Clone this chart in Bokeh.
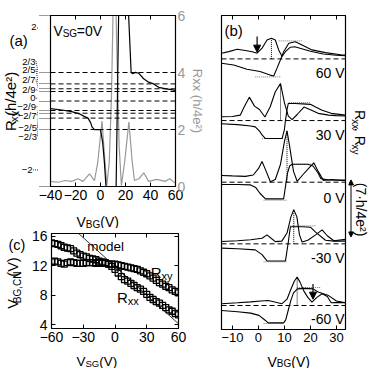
import math
from bokeh.plotting import figure
from bokeh.layouts import row, column
from bokeh.models import (Range1d, LinearAxis, FixedTicker, Label, Arrow, NormalHead, Span,
                          CustomJSTickFormatter)
from bokeh.embed import file_html
from bokeh.resources import INLINE

FONT = "Liberation Sans"
GRAY = "#999999"

# ---------------- Panel (a) data ----------------
a_vbg_xy = [-40, -31, -23, -17, -13, -10, -8, -6.7, -4.8, 0, 1.7, 3.1, 4.4, 8, 12.5, 14.5, 18,
            22.5, 24.5, 25.5, 28, 30.5, 34.5, 38.5, 42.5, 46.5, 51.5, 60]
a_rxy = [-0.18, -0.21, -0.25, -0.30, -0.36, -0.40, -0.50, -0.61, -0.67, -0.67, -0.96, -1.43, -2.0,
         -2.0, -2.0, 2.0, 2.0, 2.0, 0.67, 0.64, 0.67, 0.65, 0.52, 0.44, 0.40, 0.32, 0.29, 0.25]
a_vbg_xx = [-40, -33.7, -28.4, -23.2, -18, -14, -8.8, -4.8, -2.2, 1.2, 3.6, 5.1, 7, 8.8, 10.2, 11.2,
            12.2, 13.5, 14.9, 16.7, 19.3, 22.7, 25.4, 27.2, 30.6, 34.6, 38.5, 45, 51.6, 55.5, 60]
a_rxx = [0.18, 0.15, 0.21, 0.18, 0.27, 0.18, 0.44, 0.21, 0.85, 2.3, 0.85, 0.04, 0.85, 3.2, 6.5, 6.2,
         6.5, 4.0, 1.44, 0.04, 0.85, 2.26, 0.85, 0.21, 0.27, 0.48, 0.18, 0.25, 0.18, 0.27, 0.11]
a_fracs = [2/3, 2/5, 2/7, 2/9, 0, -2/9, -2/7, -2/5, -2/3]
a_frac_labels = ["2/3", "2/5", "2/7", "2/9", "0", "\u22122/9", "\u22122/7", "\u22122/5", "\u22122/3"]
a_ends = [2, -2]
a_end_labels = ["2", "\u22122"]
a_xticks = [-40, -20, 0, 20, 40, 60]
a_xtick_labels = ["\u221240", "\u221220", "0", "20", "40", "60"]
a_rticks = [0, 2, 4, 6]
a_rtick_labels = ["0", "2", "4", "6"]

# ---------------- Panel (b) data ----------------
b_vsg_labels = ["60 V", "30 V", "0 V", "-30 V", "-60 V"]
b_rxx_vbg = [
    [-14.2, -11.4, -8.2, -5, -2.4, -0.5, 1.4, 3.3, 5, 6.5, 7.8, 9.1, 10.4, 12.3, 14, 17, 20, 25, 30, 33.5],
    [-14.2, -10, -7, -5.5, -3.5, -1.5, 0.5, 2.5, 4.5, 6.5, 8.5, 10, 11.5, 13, 15, 17.5, 20, 23, 27, 30, 33.5],
    [-14.2, -10, -5, -2, 0, 1.4, 3, 4.6, 6.5, 8.5, 10, 11, 12, 13.5, 14.9, 17, 19.5, 21.3, 23, 25, 28, 31, 33.5],
    [-14.2, -8, -3, 1.4, 3.3, 5, 6.5, 9, 11, 12.5, 13.6, 14.8, 15.8, 16.8, 19, 22, 24.5, 26.5, 29, 33.5],
    [-14.2, -8, -3, 1, 3.8, 5.5, 7.5, 9.1, 11, 12.5, 13.8, 14.9, 16, 17.5, 19, 20.6, 22.5, 24.5, 26.5, 28, 31, 33.5],
]
b_rxx = [
    [0.63, 0.81, 1.07, 0.93, 0.8, 0.63, 1.19, 2.1, 2.3, 2.1, 1.0, 0.26, 0.8, 1.3, 1.35, 1.1, 0.85, 0.55, 0.4, 0.35],
    [0.42, 0.45, 0.6, 1.5, 2.6, 1.6, 1.2, 0.4, 1.5, 3.2, 4.1, 2.0, 0.5, 0.1, 0.7, 1.5, 1.2, 0.8, 0.6, 0.55, 0.5],
    [0.75, 0.7, 0.65, 0.8, 1.5, 2.3, 1.2, 0.05, 0.3, 2.0, 4.5, 5.7, 4.0, 1.2, 0.1, 0.8, 1.6, 2.15, 1.2, 0.2, 0.3, 0.25, 0.2],
    [0.26, 0.35, 0.45, 0.63, 1.0, 0.6, 0.25, 0.3, 1.2, 3.0, 3.8, 3.0, 1.0, 0.2, 0.4, 1.0, 1.55, 0.9, 0.35, 0.5],
    [0.2, 0.3, 0.4, 0.5, 0.55, 0.45, 0.3, 0.2, 0.7, 1.8, 2.7, 3.15, 2.6, 1.6, 0.9, 0.37, 0.9, 1.3, 1.0, 0.3, 0.35, 0.3],
]
b_rxy_vbg = [
    [-14.2, -9.5, -4.4, 0.6, 4.5, 5.9, 7.2, 8.5, 9.7, 11.7, 14.2, 16.8, 20.6, 25.8, 32.2, 33.5],
    [-14.2, -8, -3, -1.2, 0.5, 1.4, 2.7, 6, 9.1, 10, 10.4, 11, 11.5, 14, 17, 20, 22, 24.5, 28, 33.5],
    [-14.2, -8, -3, -1, 0.5, 2.7, 6, 9.7, 10.4, 11.2, 12, 13, 16, 19, 21, 23, 24, 27, 33.5],
    [-14.2, -8, -1.2, 1.4, 3.3, 6, 10.4, 11.4, 12.3, 14, 17, 20, 22, 25.8, 29, 33.5],
    [-14.2, -8, -3, 0.2, 2, 3.8, 6, 9.7, 10.5, 11.5, 12.5, 13.5, 15, 18, 21, 23, 27, 30, 33.5],
]
b_rxy = [
    [-0.48, -0.67, -1.15, -1.4, -1.8, -1.9, -1.0, -0.1, 0.8, 1.74, 1.9, 1.55, 1.0, 0.7, 0.44, 0.42],
    [-0.35, -0.45, -0.6, -0.7, -1.2, -1.6, -2.0, -2.0, -2.0, -1.0, 0, 1.2, 1.9, 1.9, 1.85, 1.8, 1.5, 1.15, 0.8, 0.6],
    [-0.25, -0.25, -0.3, -0.6, -1.2, -1.85, -1.85, -1.85, -0.5, 1.0, 1.8, 2.0, 2.0, 2.0, 1.8, 1.0, 0.4, 0.25, 0.2],
    [-0.48, -0.55, -0.67, -1.2, -1.9, -1.9, -1.9, 0, 1.9, 1.9, 1.9, 1.85, 1.3, 0.4, 0.3, 0.3],
    [-0.55, -0.7, -0.85, -1.1, -1.5, -1.93, -1.93, -1.93, -1.6, -0.5, 0.6, 1.4, 1.85, 1.9, 1.85, 1.5, 1.1, 0.5, 0.3],
]
b_cn_vbg = [5, 8.5, 11, 13.6, 14.9]
b_cn_peak = [2.3, 4.1, 5.7, 3.8, 3.15]
b_lo_start = [-1.2, 1.4, 2, 2, 2]
b_lo_end = [8.5, 9.7, 11, 11, 9.7]
b_hi_start = [7.8, 11.7, 13, 12.3, 14.9]
b_hi_end = [16.8, 20, 22, 22, 23.8]
b_arrow_trace = [0, 4]
b_arrow_vbg = [-0.5, 21]
b_arrow_top = [2.5, 2.4]
b_arrow_bot = [0.75, 0.7]
b_xticks = [-10, 0, 10, 20, 30]
b_xtick_labels = ["\u221210", "0", "10", "20", "30"]
b_step = 6.85
b_scale_bar = 7

# ---------------- Panel (c) data ----------------
c_vsg = [-60, -57, -54, -51, -48, -45, -42, -39, -36, -33, -30, -27, -24, -21, -18, -15, -12, -9, -6, -3,
         0, 3, 6, 9, 12, 15, 18, 21, 24, 27, 30, 33, 36, 39, 42, 45, 48, 51, 54, 57, 60]
c_rxy = [12.5, 12.6, 12.5, 12.3, 12.2, 12.4, 12.5, 12.4, 12.3, 12.3, 12.3, 12.4, 12.4, 12.4, 12.3, 12.4,
         12.3, 12.3, 12.2, 12.2, 12.2, 12.1, 12.0, 11.9, 11.8, 11.7, 11.6, 11.5, 11.3, 11.1, 10.9, 10.6,
         10.3, 10.0, 9.7, 9.5, 9.2, 9.0, 8.7, 8.5, 8.3]
c_rxx = [15.1, 15.0, 14.9, 14.7, 14.5, 14.4, 14.3, 14.0, 13.7, 13.5, 13.3, 13.2, 13.0, 12.9, 12.8, 12.6,
         12.5, 12.4, 12.2, 11.9, 11.5, 11.0, 10.5, 10.1, 9.9, 9.6, 9.3, 9.0, 8.8, 8.5, 8.1, 7.7, 7.4, 7.1,
         6.9, 6.6, 6.3, 6.0, 5.8, 5.5, 5.3]
c_model_vsg = [-60, 60]
c_model_vbg = [19.7, 4.1]
c_xticks = [-60, -30, 0, 30, 60]
c_xtick_labels = ["\u221260", "\u221230", "0", "30", "60"]
c_yticks = [4, 8, 12, 16]
c_ytick_labels = ["4", "8", "12", "16"]

# ---------------- helpers ----------------
EM = {'R': .722, 'V': .667, 'x': .5, 'y': .5, 'B': .667, 'G': .778, 'S': .667, 'C': .722, 'N': .722,
      ',': .278, '(': .333, ')': .333, 'h': .556, '/': .278, 'e': .556, '\u00b2': .333, ' ': .278,
      '\u00b7': .278, '=': .584, 'm': .833, 'o': .556, 'd': .556, 'l': .222}
MID = 0.3465


def tw(s, size):
    return sum(EM.get(c, .556) for c in s) * size


def lab(p, x, y, text, size, color="black", align="left", baseline="alphabetic", angle=0.0):
    p.add_layout(Label(x=x, y=y, text=text, angle=angle, text_font=FONT, text_font_size=f"{size}px",
                       text_color=color, text_align=align, text_baseline=baseline))


def hrich(p, X, Y, pieces, tx=lambda v: v, ty=lambda v: v, color="black"):
    adv = 0.0
    for text, size, shift in pieces:
        lab(p, tx(X + adv), ty(Y + shift), text, size, color=color)
        adv += tw(text, size)


def vrich(p, Xmid, Ystart, pieces, up=True, tx=lambda v: v, ty=lambda v: v, color="black"):
    main = pieces[0][1]
    adv = 0.0
    for text, size, shift in pieces:
        w = tw(text, size)
        c = adv + w / 2.0
        ms = (shift + MID * (main - size)) if shift else 0.0
        if up:
            X, Y, ang = Xmid + ms, Ystart - c, math.pi / 2
        else:
            X, Y, ang = Xmid - ms, Ystart + c, -math.pi / 2
        lab(p, tx(X), ty(Y), text, size, color=color, align="center", baseline="middle", angle=ang)
        adv += w


def mkfig(w, h, xr, yr, bl, br, bt, bb):
    p = figure(width=w, height=h, x_range=Range1d(*xr), y_range=Range1d(*yr), title=None,
               output_backend="svg", toolbar_location=None,
               min_border_left=bl, min_border_right=br, min_border_top=bt, min_border_bottom=bb)
    p.xgrid.visible = False
    p.ygrid.visible = False
    p.outline_line_color = "black"
    p.outline_line_width = 1.2
    return p


def aux(w, h, xr, yr):
    p = figure(width=w, height=h, x_range=Range1d(*xr), y_range=Range1d(*yr), title=None,
               output_backend="svg", toolbar_location=None, x_axis_location=None, y_axis_location=None,
               min_border=0, min_border_left=0, min_border_right=0, min_border_top=0, min_border_bottom=0)
    p.xgrid.visible = False
    p.ygrid.visible = False
    p.outline_line_color = None
    return p


NOLABEL = CustomJSTickFormatter(code="return ''")


def style(ax, ticks, labels=None, size="14px", color="black", standoff=3, tick_in=4):
    ax.ticker = FixedTicker(ticks=ticks, minor_ticks=[])
    ax.major_tick_in = tick_in
    ax.major_tick_out = 0
    ax.major_tick_line_color = "black"
    ax.minor_tick_line_color = None
    ax.axis_line_color = "black"
    ax.major_label_standoff = standoff
    ax.major_label_text_font = FONT
    ax.major_label_text_font_size = size
    ax.major_label_text_color = color
    if labels is None:
        ax.formatter = NOLABEL
        ax.major_label_standoff = 0
    else:
        ax.major_label_overrides = {t: l for t, l in zip(ticks, labels)}


# ================= Panel (a): frame page x 50..177, y 15..186 =================
A_PX = 171 / 4.0


def a_y(Y):
    return 2 - (Y - 15) / A_PX


def a_x(X):
    return -40 + (X - 50) * 100 / 127


fa = mkfig(170, 206, (-40, 60), (-2, 2), 12, 31, 15, 20)
fa.extra_y_ranges = {"rxx": Range1d(0, 6)}
style(fa.below[0], a_xticks, a_xtick_labels, size="14px", standoff=3)
lax = fa.left[0]
style(lax, a_fracs + a_ends, None, tick_in=0)
lax.major_tick_out = 11
lax.major_tick_line_dash = "1 1"
lax.major_tick_line_width = 0.8
top = LinearAxis()
fa.add_layout(top, "above")
style(top, a_xticks)
rax = LinearAxis(y_range_name="rxx")
fa.add_layout(rax, "right")
style(rax, a_rticks, a_rtick_labels, size="14px", color=GRAY, standoff=2)
rax.axis_label = "Rxx (h/4e\u00b2)"
rax.axis_label_text_font = FONT
rax.axis_label_text_font_size = "13px"
rax.axis_label_text_font_style = "normal"
rax.axis_label_text_color = GRAY
rax.axis_label_standoff = 2

for f in a_fracs:
    fa.add_layout(Span(location=f, dimension="width", line_color="black", line_dash="5 3", line_width=1))
fa.line(a_vbg_xx, a_rxx, y_range_name="rxx", line_color=GRAY, line_width=1.2)
fa.line(a_vbg_xy, a_rxy, line_color="black", line_width=1.2)
hrich(fa, 53, 30, [("V", 14, 0), ("SG", 10, 3), ("=0V", 14, 0)], tx=a_x, ty=a_y)

# left strip of (a): page x 0..38, same vertical scale as (a)
aL = aux(38, 206, (0, 38), (-2 - 20 / A_PX, 2 + 15 / A_PX))
frac_label_y = [55, 64.5, 77, 89, 99.5, 110, 120, 135, 145.5]
frac_label_r = [35, 35, 35, 35, 35, 35.5, 36, 36.5, 36.5]
for f, txt, ly, lr in zip(a_fracs, a_frac_labels, frac_label_y, frac_label_r):
    lab(aL, lr, a_y(ly), txt, 9.5, align="right", baseline="middle")
    aL.add_layout(Arrow(x_start=lr + 0.5, y_start=a_y(ly), x_end=38, y_end=f, end=None,
                        line_dash="1 1", line_width=0.8, line_color="black"))
for v, txt, lx, ly in zip(a_ends, a_end_labels, [36, 32], [14, 186]):
    lab(aL, lx, a_y(ly), txt, 9.5, align="right", baseline="middle")
    aL.add_layout(Arrow(x_start=lx + 0.5, y_start=v, x_end=38, y_end=v, end=None,
                        line_dash="1 1", line_width=0.8, line_color="black"))
hrich(aL, 9, 30, [("(a)", 15, 0)], ty=a_y)
vrich(aL, 9.5, 138, [("R", 15, 0), ("xy", 11, 3), (" (h/4e\u00b2)", 15, 0)], up=True, ty=a_y)

# bottom strip of (a): page y 206..228
aB = aux(208, 22, (0, 208), (228, 206))
hrich(aB, 76, 221, [("V", 14, 0), ("BG", 10, 2.5), ("(V)", 14, 0)])

# ================= Panel (c): frame page x 50..178, y 233..328 =================
C_PX = 7.36


def c_y(Y):
    return 16 - (Y - 235.7) / C_PX


def c_x(X):
    return -60 + (X - 50) * 120 / 128


fc = mkfig(180, 119, (-60, 60), (c_y(328), c_y(233)), 22, 30, 5, 19)
style(fc.below[0], c_xticks, c_xtick_labels, size="14px", standoff=3)
style(fc.left[0], c_yticks, c_ytick_labels, size="14px", standoff=4)
ct = LinearAxis()
fc.add_layout(ct, "above")
style(ct, c_xticks)
cr = LinearAxis()
fc.add_layout(cr, "right")
style(cr, c_yticks)

fc.line(c_model_vsg, c_model_vbg, line_color="black", line_width=0.8)
fc.scatter(c_vsg, c_rxy, marker="square", size=6, fill_color=None, line_color="black", line_width=1.3)
fc.scatter(c_vsg, c_rxx, marker="square", size=6, fill_color=None, line_color="black", line_width=1.3)
hrich(fc, 86, 246, [("model", 13.5, 0)], tx=c_x, ty=c_y)
hrich(fc, 150, 272, [("R", 15, 0), ("xy", 11, 3)], tx=c_x, ty=c_y)
hrich(fc, 116, 297, [("R", 15, 0), ("xx", 11, 3)], tx=c_x, ty=c_y)

cL = aux(28, 119, (0, 28), (347, 228))
hrich(cL, 8, 243, [("(c)", 14.5, 0)])
vrich(cL, 12, 321, [("V", 14.5, 0), ("BG,CN", 10, 3), ("(V)", 14.5, 0)], up=True)

cB = aux(208, 21, (0, 208), (368, 347))
hrich(cB, 76, 361, [("V", 13.5, 0), ("SG", 9.5, 2), ("(V)", 13.5, 0)])

# ================= Panel (b): frame page x 221..345, y 15..329 =================
B_PX = 9.0


def b_y(Y):
    return (305 - Y) / B_PX


def b_x(X):
    return -14.2 + (X - 221) / 2.6


fb = mkfig(140, 347, (-14.2, 33.5), (b_y(329), b_y(15)), 13, 3, 15, 18)
style(fb.below[0], b_xticks, b_xtick_labels, size="13px", standoff=3)
style(fb.left[0], [], None, tick_in=0)
bt = LinearAxis()
fb.add_layout(bt, "above")
style(bt, b_xticks)

n = len(b_vsg_labels)
for i in range(n):
    off = (n - 1 - i) * b_step
    fb.add_layout(Span(location=off, dimension="width", line_color="black", line_dash="5 3", line_width=1))
    fb.segment(x0=[b_lo_start[i], b_hi_start[i]], y0=[off - 2, off + 2],
               x1=[b_lo_end[i], b_hi_end[i]], y1=[off - 2, off + 2],
               line_color="#555555", line_width=0.8, line_dash="1 1")
    fb.segment(x0=[b_cn_vbg[i]], y0=[off], x1=[b_cn_vbg[i]], y1=[off + b_cn_peak[i]],
               line_color="black", line_width=1, line_dash="1 1")
    fb.line(b_rxy_vbg[i], [v + off for v in b_rxy[i]], line_color="black", line_width=1.1)
    fb.line(b_rxx_vbg[i], [v + off for v in b_rxx[i]], line_color="black", line_width=1.1)
    drop = 1.8 if b_vsg_labels[i] == "0 V" else 1.55
    lab(fb, b_x(344), off - drop, b_vsg_labels[i], 14, align="right")

for t, xv, yt, yb in zip(b_arrow_trace, b_arrow_vbg, b_arrow_top, b_arrow_bot):
    off = (n - 1 - t) * b_step
    fb.add_layout(Arrow(x_start=xv, y_start=off + yt, x_end=xv, y_end=off + yb, line_width=1.2,
                        end=NormalHead(size=7, fill_color="black", line_color="black")))
hrich(fb, 224, 30, [("(b)", 15, 0)], tx=b_x, ty=b_y)

# right strip of (b): page x 348..374, same vertical scale as (b)
bR = aux(26, 347, (348, 374), (b_y(347), b_y(0)))
vrich(bR, 359, 105, [("R", 14, 0), ("xx", 10, 2.5), (", R", 14, 0), ("xy", 10, 2.5)], up=False, ty=b_y)
vrich(bR, 360, 188, [("(7\u00b7h/4e\u00b2)", 14, 0)], up=False, ty=b_y)
bR.add_layout(Arrow(x_start=350.5, y_start=2 * b_step, x_end=350.5, y_end=2 * b_step - b_scale_bar,
                    line_width=1,
                    start=NormalHead(size=5, fill_color="black", line_color="black"),
                    end=NormalHead(size=5, fill_color="black", line_color="black")))

bB = aux(166, 21, (208, 374), (368, 347))
hrich(bB, 267, 361, [("V", 14, 0), ("BG", 10, 2), (" (V)", 14, 0)])

left_col = column(row(aL, fa), aB, row(cL, fc), cB)
right_col = column(row(fb, bR), bB)
layout = row(left_col, right_col)
open("out.html", "w").write(file_html(layout, INLINE))
